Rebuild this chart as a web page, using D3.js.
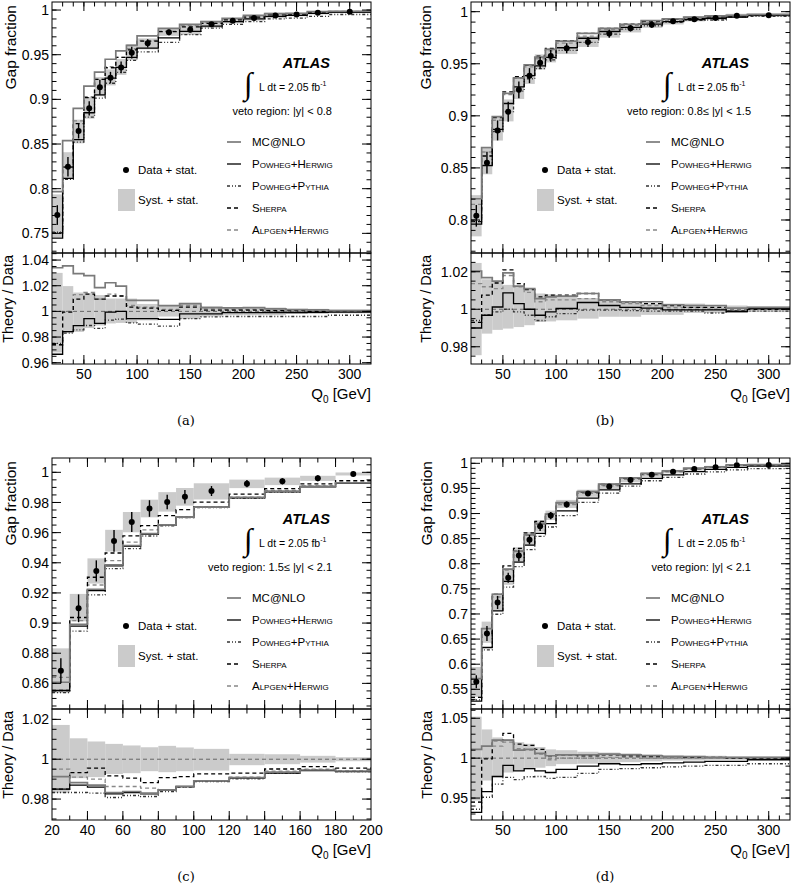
<!DOCTYPE html>
<html><head><meta charset="utf-8">
<script src="https://cdn.jsdelivr.net/npm/d3@7"></script>
<style>
body{margin:0;background:#fff;}
svg text{font-family:"Liberation Sans",Arial,Helvetica,sans-serif;fill:#000;}
</style></head><body>
<svg id="chart" width="791" height="890"></svg>
<script>
// ---------------- DATA ----------------
const edgesABD = [20,30,40,50,60,70,80,90,100,120,140,160,180,200,220,240,260,280,320];
const edgesC   = [20,30,40,50,60,70,80,90,100,120,140,160,180,200];

const seriesNames = ["MC@NLO","Powheg+Herwig","Powheg+Pythia","Sherpa","Alpgen+Herwig"];
const vetoLabels = ["veto region: |y| < 0.8","veto region: 0.8\u2264 |y| < 1.5","veto region: 1.5\u2264 |y| < 2.1","veto region: |y| < 2.1"];
const captions = ["(a)","(b)","(c)","(d)"];

const xTicksABD = [50,100,150,200,250,300];
const xTicksC   = [20,40,60,80,100,120,140,160,180,200];
const yUpA = [0.75,0.8,0.85,0.9,0.95,1];
const yUpB = [0.8,0.85,0.9,0.95,1];
const yUpC = [0.86,0.88,0.9,0.92,0.94,0.96,0.98,1];
const yUpD = [0.55,0.6,0.65,0.7,0.75,0.8,0.85,0.9,0.95,1];
const yLoA = [0.96,0.98,1,1.02,1.04];
const yLoB = [0.98,1,1.02];
const yLoC = [0.98,1,1.02];
const yLoD = [0.95,1,1.05];

// (a) |y| < 0.8
const dataA  = [0.7705,0.8246,0.8646,0.890,0.9135,0.9243,0.9358,0.9523,0.9627,0.975,0.978,0.984,0.988,0.991,0.994,0.995,0.997,0.998];
const statA  = [0.011,0.011,0.0084,0.008,0.0084,0.0065,0.0065,0.0065,0.0047,0.0033,0.003,0.0025,0.002,0.002,0.002,0.0015,0.0015,0.0015];
const sysUpA = [1.030,1.0197,1.0147,1.0142,1.0127,1.010,1.010,1.010,1.0058,1.0045,1.0066,1.004,1.003,1.003,1.003,1.002,1.002,1.0015];
const sysDnA = [0.968,0.983,0.984,0.987,0.989,0.9906,0.991,0.991,0.993,0.996,0.994,0.996,0.997,0.997,0.997,0.998,0.998,0.9985];
const mcnloA = [1.034,1.0354,1.0294,1.0278,1.0185,1.0223,1.0197,1.0086,1.0086,1.0045,1.006,1.003,1.0027,1.003,1.002,1.0014,1.0012,1.0006];
const phA    = [0.9666,0.9843,0.9889,0.9944,0.9906,0.9995,1.0,0.9944,0.9944,0.9937,0.998,0.998,0.999,0.999,0.999,0.999,0.9992,0.9995];
const ppA    = [0.975,0.983,0.9856,0.989,0.9868,0.9932,0.994,0.991,0.990,0.9885,0.9944,0.9957,0.996,0.996,0.996,0.996,0.996,0.997];
const sherpaA= [0.974,0.9995,1.0096,1.0134,1.0096,1.012,1.012,1.0033,1.0025,1.0008,1.0033,1.001,1.001,1.001,1.0005,1.0005,1.0,1.0];
const alpgenA= [0.974,1.0,1.013,1.0147,1.0096,1.0134,1.012,1.0046,1.0033,1.0015,1.0046,1.002,1.0015,1.0015,1.001,1.001,1.0005,1.0005];

// (b) 0.8 <= |y| < 1.5
const dataB  = [0.804,0.855,0.886,0.904,0.925,0.9386,0.951,0.9575,0.965,0.971,0.979,0.984,0.9875,0.9907,0.9927,0.994,0.996,0.9965];
const statB  = [0.0104,0.0104,0.0096,0.0096,0.008,0.0072,0.0056,0.0056,0.0048,0.0048,0.004,0.003,0.003,0.002,0.002,0.002,0.002,0.002];
const sysUpB = [1.0247,1.016,1.0146,1.013,1.012,1.011,1.0084,1.008,1.0066,1.006,1.005,1.004,1.003,1.003,1.003,1.002,1.002,1.0015];
const sysDnB = [0.9755,0.987,0.989,0.9897,0.9905,0.9915,0.9932,0.9935,0.9941,0.995,0.996,0.996,0.997,0.997,0.998,0.998,0.998,0.9985];
const mcnloB = [1.0204,1.0169,1.015,1.0194,1.0123,1.011,1.0057,1.0066,1.007,1.0084,1.005,1.004,1.004,1.0024,1.002,1.002,1.0006,1.001];
const phB    = [0.990,0.9968,1.0012,1.0087,1.003,1.0,0.9968,0.9986,1.0004,1.0036,1.002,1.001,1.0006,0.9997,0.9997,0.9997,0.9988,1.0003];
const ppB    = [0.994,0.997,0.9986,1.0,0.9986,0.9968,0.994,0.996,0.9977,0.9995,0.9995,0.9993,0.999,0.999,0.999,0.998,0.999,0.999];
const sherpaB= [0.993,1.0075,1.014,1.021,1.0137,1.0105,1.0066,1.0075,1.0075,1.0084,1.005,1.004,1.003,1.002,1.001,1.001,0.999,1.0];
const alpgenB= [1.0137,1.012,1.011,1.018,1.012,1.009,1.004,1.005,1.005,1.0057,1.004,1.003,1.002,1.001,1.001,1.0,0.999,1.0];

// (c) 1.5 <= |y| < 2.1
const dataC  = [0.8683,0.9098,0.9346,0.9545,0.967,0.976,0.9803,0.9838,0.9876,0.9925,0.994,0.996,0.9989];
const statC  = [0.0083,0.0092,0.007,0.0072,0.0066,0.0055,0.0048,0.0044,0.0033,0.0024,0.002,0.002,0.0015];
const sysUpC = [1.0172,1.0105,1.0089,1.0077,1.0069,1.006,1.0067,1.0059,1.0052,1.0027,1.0025,1.0017,1.001];
const sysDnC = [0.983,0.9905,0.991,0.9926,0.993,0.994,0.9935,0.994,0.9943,0.997,0.9975,0.9983,0.999];
const mcnloC = [0.9913,0.9883,0.987,0.9833,0.9838,0.983,0.9846,0.9863,0.9891,0.9908,0.9935,0.9946,0.9941];
const phC    = [0.985,0.987,0.986,0.9826,0.9833,0.9826,0.9846,0.9863,0.9891,0.9905,0.993,0.9943,0.9938];
const ppC    = [0.9833,0.9833,0.983,0.9808,0.9818,0.9813,0.9838,0.986,0.9888,0.9901,0.993,0.9946,0.9938];
const sherpaC= [0.985,0.9933,0.9955,0.9916,0.9905,0.9883,0.9908,0.9913,0.9926,0.993,0.9951,0.9963,0.9955];
const alpgenC= [0.995,0.991,0.990,0.9863,0.9863,0.9855,0.9846,0.986,0.989,0.991,0.994,0.995,0.9943];

// (d) |y| < 2.1
const dataD  = [0.565,0.661,0.723,0.772,0.8165,0.848,0.8745,0.896,0.918,0.940,0.954,0.967,0.977,0.983,0.9886,0.992,0.996,0.9966];
const statD  = [0.013,0.015,0.013,0.010,0.0116,0.0093,0.0093,0.0073,0.006,0.005,0.004,0.003,0.003,0.003,0.002,0.002,0.002,0.002];
const sysUpD = [1.052,1.036,1.026,1.024,1.020,1.018,1.014,1.011,1.010,1.008,1.007,1.006,1.005,1.004,1.003,1.003,1.002,1.002];
const sysDnD = [0.947,0.972,0.976,0.982,0.984,0.986,0.988,0.990,0.9925,0.993,0.994,0.995,0.996,0.997,0.997,0.998,0.998,0.998];
const mcnloD = [1.011,1.015,1.0225,1.0225,1.010,1.011,1.006,1.003,1.004,1.004,1.005,1.004,1.003,1.002,1.002,1.001,1.001,1.001];
const phD    = [0.932,0.958,0.977,0.991,0.984,0.987,0.984,0.982,0.986,0.990,0.993,0.992,0.993,0.994,0.995,0.996,0.996,0.998];
const ppD    = [0.936,0.951,0.9675,0.976,0.973,0.9767,0.977,0.9746,0.976,0.981,0.986,0.987,0.988,0.989,0.990,0.991,0.991,0.993];
const sherpaD= [0.945,0.999,1.022,1.031,1.0175,1.016,1.011,1.003,1.004,1.003,1.004,1.003,1.002,1.002,1.001,1.001,1.0,1.0];
const alpgenD= [0.945,1.0,1.015,1.020,1.012,1.010,1.005,0.998,1.0,1.0,1.001,1.001,1.0,1.0,1.0,1.0,1.0,1.0];

// ---------------- LAYOUT ----------------
const panels = [
  {L:52, R:371, T:2,   M:253, B:364, edges:edgesABD, xDom:[20,320], xTicks:xTicksABD, xMin:10, upDom:[0.728,1.009], upTicks:yUpA, upMin:0.01, loDom:[0.959,1.0455], loTicks:yLoA, loMin:0.005,
   data:dataA, stat:statA, sUp:sysUpA, sDn:sysDnA, th:[mcnloA,phA,ppA,sherpaA,alpgenA], gapX:15.5, thX:12.5, capY:425},
  {L:471, R:790, T:2,  M:253, B:364, edges:edgesABD, xDom:[20,320], xTicks:xTicksABD, xMin:10, upDom:[0.7683,1.0093], upTicks:yUpB, upMin:0.01, loDom:[0.9708,1.030], loTicks:yLoB, loMin:0.005,
   data:dataB, stat:statB, sUp:sysUpB, sDn:sysDnB, th:[mcnloB,phB,ppB,sherpaB,alpgenB], gapX:431, thX:431, capY:425},
  {L:52, R:371, T:458, M:709, B:820, edges:edgesC, xDom:[20,200], xTicks:xTicksC, xMin:10, upDom:[0.843,1.0095], upTicks:yUpC, upMin:0.005, loDom:[0.9695,1.0252], loTicks:yLoC, loMin:0.005,
   data:dataC, stat:statC, sUp:sysUpC, sDn:sysDnC, th:[mcnloC,phC,ppC,sherpaC,alpgenC], gapX:15.5, thX:12.5, capY:881},
  {L:471, R:790, T:458, M:709, B:820, edges:edgesABD, xDom:[20,320], xTicks:xTicksABD, xMin:10, upDom:[0.5108,1.0106], upTicks:yUpD, upMin:0.01, loDom:[0.9225,1.0616], loTicks:yLoD, loMin:0.01,
   data:dataD, stat:statD, sUp:sysUpD, sDn:sysDnD, th:[mcnloD,phD,ppD,sherpaD,alpgenD], gapX:432, thX:432, capY:881}
];

const styles = [
  {stroke:"#7a7a7a", w:1.7, dash:null},          // MC@NLO
  {stroke:"#000",    w:1.3, dash:null},          // Powheg+Herwig
  {stroke:"#333",    w:1.3, dash:"3,2,1,2,1,2"}, // Powheg+Pythia
  {stroke:"#000",    w:1.3, dash:"4,3"},         // Sherpa
  {stroke:"#888",    w:1.3, dash:"4,3"}          // Alpgen+Herwig
];
const bandColor = "#cbcbcb";
const fmt = v => String(+v.toFixed(3));

const svg = d3.select("#chart");
const defs = svg.append("defs");

panels.forEach((p, pi) => {
  const g = svg.append("g");
  const x = d3.scaleLinear().domain(p.xDom).range([p.L, p.R]);
  const yU = d3.scaleLinear().domain(p.upDom).range([p.M, p.T]);
  const yL = d3.scaleLinear().domain(p.loDom).range([p.B, p.M]);
  const n = p.data.length;
  const cen = d3.range(n).map(i => (p.edges[i] + p.edges[i+1]) / 2);

  defs.append("clipPath").attr("id","cu"+pi).append("rect").attr("x",p.L).attr("y",p.T).attr("width",p.R-p.L).attr("height",p.M-p.T);
  defs.append("clipPath").attr("id","cl"+pi).append("rect").attr("x",p.L).attr("y",p.M).attr("width",p.R-p.L).attr("height",p.B-p.M);

  const step = (ys, yScale) => d3.line().x(d => x(d[0])).y(d => yScale(d[1])).curve(d3.curveStepAfter)(
    ys.map((v,i) => [p.edges[i], v]).concat([[p.edges[n], ys[n-1]]]));

  // ---- upper panel ----
  const gu = g.append("g").attr("clip-path","url(#cu"+pi+")");
  gu.selectAll("rect.band").data(d3.range(n)).join("rect")
    .attr("x", i => x(p.edges[i])).attr("width", i => x(p.edges[i+1]) - x(p.edges[i]))
    .attr("y", i => yU(p.data[i]*p.sUp[i])).attr("height", i => yU(p.data[i]*p.sDn[i]) - yU(p.data[i]*p.sUp[i]))
    .attr("fill", bandColor);
  [4,3,2,1,0].forEach(k => {
    const vals = p.th[k].map((r,i) => r * p.data[i]);
    gu.append("path").attr("d", step(vals, yU)).attr("fill","none")
      .attr("stroke", styles[k].stroke).attr("stroke-width", styles[k].w)
      .attr("stroke-dasharray", styles[k].dash);
  });
  gu.selectAll("line.err").data(d3.range(n)).join("line")
    .attr("x1", i => x(cen[i])).attr("x2", i => x(cen[i]))
    .attr("y1", i => yU(p.data[i] - p.stat[i])).attr("y2", i => yU(p.data[i] + p.stat[i]))
    .attr("stroke","#000").attr("stroke-width",1.4);
  gu.selectAll("circle.pt").data(d3.range(n)).join("circle")
    .attr("cx", i => x(cen[i])).attr("cy", i => yU(p.data[i])).attr("r", 3).attr("fill","#000");

  // ---- lower panel ----
  const gl = g.append("g").attr("clip-path","url(#cl"+pi+")");
  gl.selectAll("rect.band").data(d3.range(n)).join("rect")
    .attr("x", i => x(p.edges[i])).attr("width", i => x(p.edges[i+1]) - x(p.edges[i]))
    .attr("y", i => yL(p.sUp[i])).attr("height", i => yL(p.sDn[i]) - yL(p.sUp[i]))
    .attr("fill", bandColor);
  gl.append("line").attr("x1",p.L).attr("x2",p.R).attr("y1",yL(1)).attr("y2",yL(1))
    .attr("stroke","#666").attr("stroke-width",1).attr("stroke-dasharray","4,3");
  [4,3,2,1,0].forEach(k => {
    gl.append("path").attr("d", step(p.th[k], yL)).attr("fill","none")
      .attr("stroke", styles[k].stroke).attr("stroke-width", styles[k].w)
      .attr("stroke-dasharray", styles[k].dash);
  });

  // ---- frames ----
  [[p.T,p.M],[p.M,p.B]].forEach(([t,b]) => {
    g.append("rect").attr("x",p.L).attr("y",t).attr("width",p.R-p.L).attr("height",b-t)
      .attr("fill","none").attr("stroke","#000").attr("stroke-width",1);
  });

  const tk = (x1,y1,x2,y2) => g.append("line").attr("x1",x1).attr("y1",y1).attr("x2",x2).attr("y2",y2).attr("stroke","#000").attr("stroke-width",1);
  const MAJ = 9, MIN = 4.5;
  // x ticks
  const xMinor = d3.range(p.xDom[0], p.xDom[1] + 0.001, p.xMin);
  [[p.T,1],[p.M,-1],[p.M,1],[p.B,-1]].forEach(([yy,dir]) => {
    xMinor.forEach(v => { if (v > p.xDom[0] && v < p.xDom[1]) tk(x(v), yy, x(v), yy + dir*MIN); });
    p.xTicks.forEach(v => { if (v > p.xDom[0] && v < p.xDom[1]) tk(x(v), yy, x(v), yy + dir*MAJ); });
  });
  // y ticks
  const yTicks = (sc, dom, maj, minStep) => {
    const mins = d3.range(Math.ceil(dom[0]/minStep)*minStep, dom[1], minStep);
    mins.forEach(v => { const yy = sc(v); if (yy < sc(dom[0]) - 0.5 && yy > sc(dom[1]) + 0.5) { tk(p.L, yy, p.L+MIN, yy); tk(p.R, yy, p.R-MIN, yy); } });
    maj.forEach(v => { const yy = sc(v); tk(p.L, yy, p.L+MAJ, yy); tk(p.R, yy, p.R-MAJ, yy);
      g.append("text").attr("x", p.L-3).attr("y", yy).attr("dy","0.36em").attr("text-anchor","end")
        .style("font-size","14px").text(fmt(v)); });
  };
  yTicks(yU, p.upDom, p.upTicks, p.upMin);
  yTicks(yL, p.loDom, p.loTicks, p.loMin);
  // x labels
  p.xTicks.forEach(v => g.append("text").attr("x", x(v)).attr("y", p.B + 15).attr("text-anchor","middle")
    .style("font-size","14px").text(fmt(v)));
  const q = g.append("text").attr("x", p.R).attr("y", p.B + 35).attr("text-anchor","end").style("font-size","15px");
  q.append("tspan").text("Q");
  q.append("tspan").attr("dy", 4).style("font-size","10px").text("0");
  q.append("tspan").attr("dy", -4).text(" [GeV]");
  // y titles
  g.append("text").attr("transform", `translate(${p.gapX},${p.T+3}) rotate(-90)`).attr("text-anchor","end")
    .style("font-size","15.5px").text("Gap fraction");
  g.append("text").attr("transform", `translate(${p.thX},${p.M+2}) rotate(-90)`).attr("text-anchor","end")
    .style("font-size","14.5px").text("Theory / Data");
  // caption
  g.append("text").attr("x", p.L + 134).attr("y", p.capY).attr("text-anchor","middle")
    .style("font-family","'DejaVu Serif','Liberation Serif',serif").style("font-size","13px").text(captions[pi]);

  // ---- annotations ----
  g.append("text").attr("x", p.R - 41).attr("y", p.T + 66).attr("text-anchor","end")
    .style("font-size","14.5px").style("font-weight","bold").style("font-style","italic").text("ATLAS");
  g.append("text").attr("x", p.R - 127).attr("y", p.T + 92)
    .style("font-family","'Liberation Serif','DejaVu Serif',serif").style("font-size","31px").text("\u222B");
  const lum = g.append("text").attr("x", p.R - 112).attr("y", p.T + 89).style("font-size","10.5px");
  lum.append("tspan").text("L dt = 2.05 fb");
  lum.append("tspan").attr("dy", -5).style("font-size","7px").text("-1");
  g.append("text").attr("x", p.R - 39).attr("y", p.T + 113).attr("text-anchor","end")
    .style("font-size","11px").text(vetoLabels[pi]);

  // legend: theory
  seriesNames.forEach((nm, k) => {
    const yy = p.T + 140 + k*22;
    g.append("line").attr("x1", p.R-144).attr("x2", p.R-130).attr("y1", yy).attr("y2", yy)
      .attr("stroke", styles[k].stroke).attr("stroke-width", styles[k].w).attr("stroke-dasharray", styles[k].dash);
    g.append("text").attr("x", p.R-119).attr("y", yy+4).style("font-size","11.5px")
      .style("font-variant", k === 0 ? "normal" : "small-caps").text(nm);
  });
  // legend: data + band
  g.append("circle").attr("cx", p.L+74).attr("cy", p.T+168).attr("r", 3).attr("fill","#000");
  g.append("text").attr("x", p.L+86).attr("y", p.T+172).style("font-size","11.5px").text("Data + stat.");
  g.append("rect").attr("x", p.L+66).attr("y", p.T+187).attr("width",17).attr("height",22).attr("fill",bandColor);
  g.append("text").attr("x", p.L+86).attr("y", p.T+202).style("font-size","11.5px").text("Syst. + stat.");
});
</script>
</body></html>
